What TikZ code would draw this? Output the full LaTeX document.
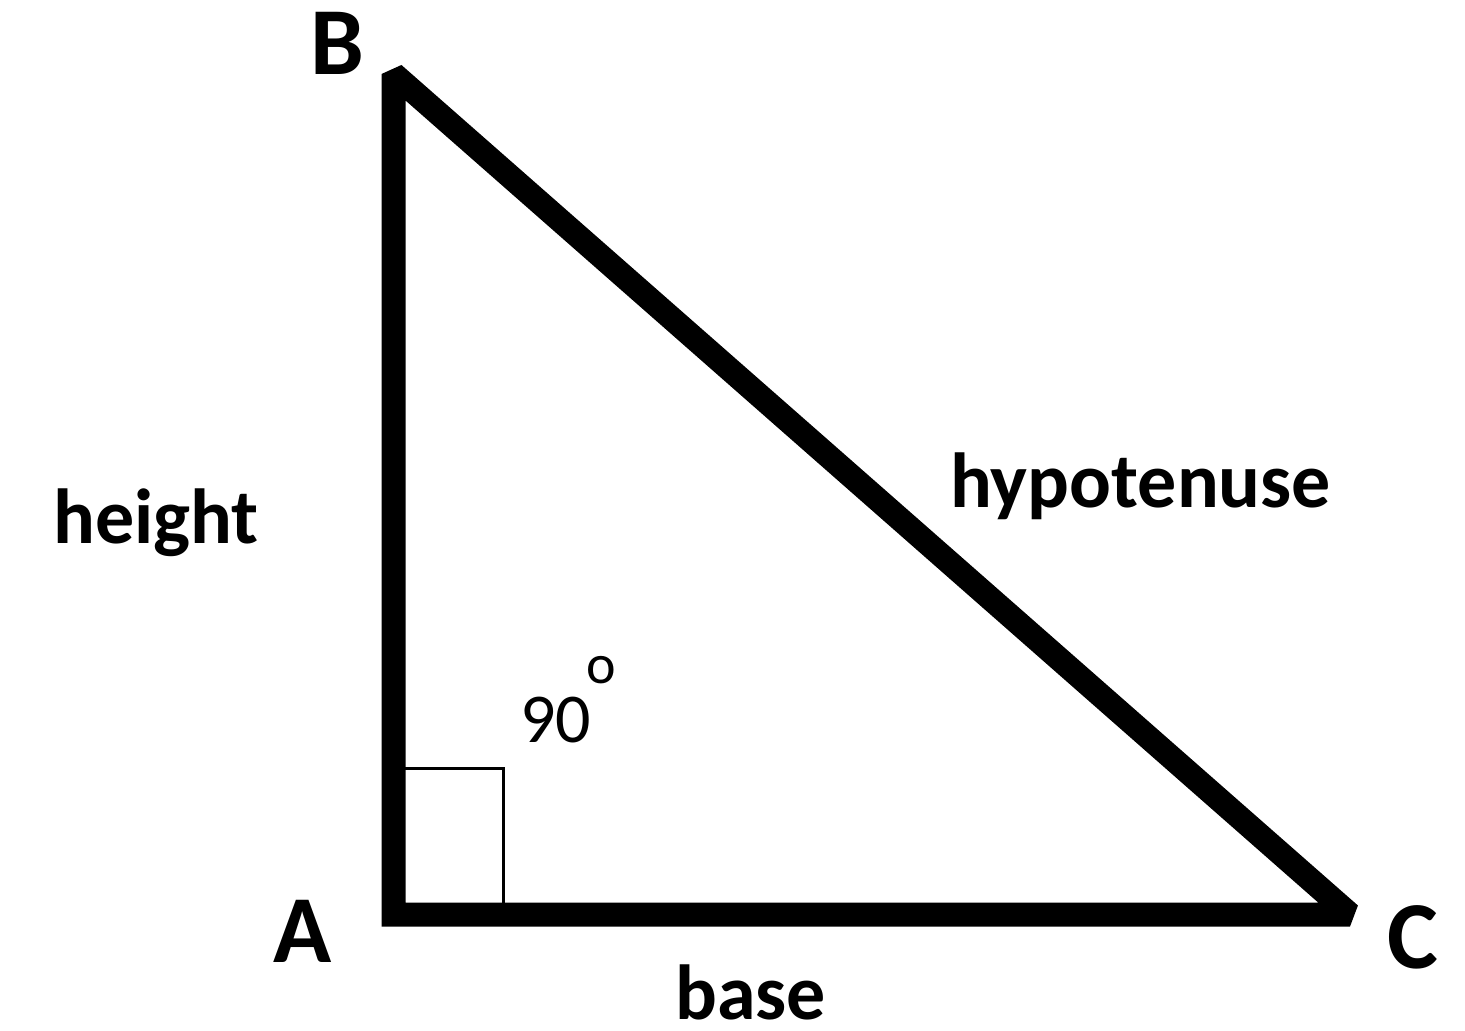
\documentclass[tikz,border=0pt]{standalone}
\usepackage{fontspec}
\setmainfont{Carlito}
\begin{document}
\begin{tikzpicture}[x=0.5pt,y=-0.5pt,
  lbl/.style={inner sep=0pt,anchor=base west,font=\bfseries\fontsize{48}{52}\selectfont},
  word/.style={inner sep=0pt,anchor=base west,font=\bfseries\fontsize{39}{44}\selectfont},
  thick side/.style={line width=12pt,line join=miter,miter limit=2},
  ]
\useasboundingbox (0,0) rectangle (1465,1031);
\coordinate (A) at (393.5,914.5);
\coordinate (B) at (393.5,74);
\coordinate (C) at (1350,914.5);
\draw[thick side] (A) -- (B) -- (C) -- cycle;
\draw[line width=1.5pt] (405,768) -- (503,768) -- (503,903);
\node[lbl] (lB) at (310,75) {B};
\node[lbl] (lA) at (273,962) {A};
\node[lbl] (lC) at (1387,968) {C};
\node[word] (h) at (53,543) {height};
\node[word] (hyp) at (950,507) {hypotenuse};
\node[word] (bs) at (675,1019) {base};
\node[inner sep=0pt,anchor=base west,font=\fontsize{35}{40}\selectfont] (n90) at (520,742) {90};
\node[inner sep=0pt,anchor=base west,font=\fontsize{28}{32}\selectfont] (deg) at (586,683) {o};
\end{tikzpicture}
\end{document}
